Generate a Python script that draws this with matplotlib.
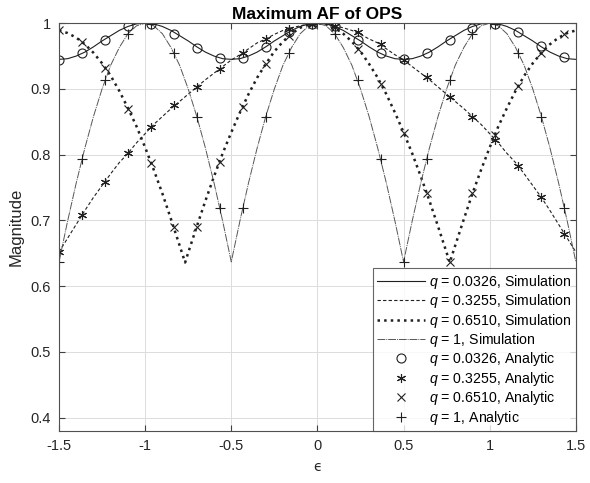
import numpy as np
import matplotlib.pyplot as plt

plt.rcParams["font.family"] = ["Liberation Sans", "DejaVu Sans"]
plt.rcParams["mathtext.fontset"] = "custom"
plt.rcParams["mathtext.it"] = "Liberation Sans:italic"
plt.rcParams["mathtext.rm"] = "Liberation Sans"

# simulation curves, sampled on a 0.05 grid in epsilon (+ cusp points for q=0.6510)
eps_sim = [-1.5, -1.45, -1.4, -1.35, -1.3, -1.25, -1.2, -1.15, -1.1, -1.05,
           -1.0, -0.95, -0.9, -0.85, -0.8, -0.75, -0.7, -0.65, -0.6, -0.55,
           -0.5, -0.45, -0.4, -0.35, -0.3, -0.25, -0.2, -0.15, -0.1, -0.05,
           0.0, 0.05, 0.1, 0.15, 0.2, 0.25, 0.3, 0.35, 0.4, 0.45,
           0.5, 0.55, 0.6, 0.65, 0.7, 0.75, 0.8, 0.85, 0.9, 0.95,
           1.0, 1.05, 1.1, 1.15, 1.2, 1.25, 1.3, 1.35, 1.4, 1.45, 1.5]

sim_q00326 = [0.945, 0.946, 0.950, 0.956, 0.964, 0.973, 0.981, 0.989, 0.995, 0.999,
              1.000, 0.999, 0.995, 0.989, 0.981, 0.973, 0.964, 0.956, 0.950, 0.946,
              0.945, 0.946, 0.950, 0.956, 0.964, 0.973, 0.981, 0.989, 0.995, 0.999,
              1.000, 0.999, 0.995, 0.989, 0.981, 0.973, 0.964, 0.956, 0.950, 0.946,
              0.945, 0.946, 0.950, 0.956, 0.964, 0.973, 0.981, 0.989, 0.995, 0.999,
              1.000, 0.999, 0.995, 0.989, 0.981, 0.973, 0.964, 0.956, 0.950, 0.946, 0.945]

sim_q03255 = [0.652, 0.673, 0.694, 0.715, 0.735, 0.753, 0.771, 0.788, 0.802, 0.818,
              0.832, 0.846, 0.858, 0.870, 0.881, 0.892, 0.903, 0.914, 0.924, 0.934,
              0.944, 0.952, 0.961, 0.970, 0.976, 0.983, 0.989, 0.993, 0.996, 0.999,
              1.000, 0.999, 0.996, 0.993, 0.989, 0.983, 0.976, 0.970, 0.961, 0.952,
              0.944, 0.934, 0.924, 0.914, 0.903, 0.892, 0.881, 0.870, 0.858, 0.846,
              0.832, 0.818, 0.802, 0.788, 0.771, 0.753, 0.735, 0.715, 0.694, 0.673, 0.652]

eps_sim_q06510 = [-1.5, -1.45, -1.4, -1.35, -1.3, -1.25, -1.2, -1.15, -1.1, -1.05,
                  -1.0, -0.95, -0.9, -0.85, -0.8, -0.768, -0.75, -0.7, -0.65, -0.6, -0.55,
                  -0.5, -0.45, -0.4, -0.35, -0.3, -0.25, -0.2, -0.15, -0.1, -0.05,
                  0.0, 0.05, 0.1, 0.15, 0.2, 0.25, 0.3, 0.35, 0.4, 0.45,
                  0.5, 0.55, 0.6, 0.65, 0.7, 0.75, 0.768, 0.8, 0.85, 0.9, 0.95,
                  1.0, 1.05, 1.1, 1.15, 1.2, 1.25, 1.3, 1.35, 1.4, 1.45, 1.5]
sim_q06510 = [0.989, 0.985, 0.978, 0.968, 0.955, 0.939, 0.920, 0.897, 0.871, 0.843,
              0.811, 0.777, 0.741, 0.702, 0.662, 0.636, 0.651, 0.691, 0.730, 0.767, 0.802,
              0.834, 0.864, 0.892, 0.917, 0.938, 0.957, 0.972, 0.984, 0.993, 0.998,
              1.000, 0.998, 0.993, 0.984, 0.972, 0.957, 0.938, 0.917, 0.892, 0.864,
              0.834, 0.802, 0.767, 0.730, 0.691, 0.651, 0.636, 0.662, 0.702, 0.741, 0.777,
              0.811, 0.843, 0.871, 0.897, 0.920, 0.939, 0.955, 0.968, 0.978, 0.985, 0.989]

sim_q1 = [0.637, 0.699, 0.757, 0.810, 0.858, 0.900, 0.936, 0.963, 0.984, 0.996,
          1.000, 0.996, 0.984, 0.963, 0.936, 0.900, 0.858, 0.810, 0.757, 0.699,
          0.637, 0.699, 0.757, 0.810, 0.858, 0.900, 0.936, 0.963, 0.984, 0.996,
          1.000, 0.996, 0.984, 0.963, 0.936, 0.900, 0.858, 0.810, 0.757, 0.699,
          0.637, 0.699, 0.757, 0.810, 0.858, 0.900, 0.936, 0.963, 0.984, 0.996,
          1.000, 0.996, 0.984, 0.963, 0.936, 0.900, 0.858, 0.810, 0.757, 0.699, 0.637]

# analytic values at the marker positions
eps_ana = [-1.5, -1.3667, -1.2333, -1.1, -0.9667, -0.8333, -0.7, -0.5667,
           -0.4333, -0.3, -0.1667, -0.0333, 0.1, 0.2333, 0.3667, 0.5,
           0.6333, 0.7667, 0.9, 1.0333, 1.1667, 1.3, 1.4333]

ana_q00326 = [0.944, 0.955, 0.975, 0.995, 0.998, 0.984, 0.963, 0.947,
              0.947, 0.964, 0.987, 0.999, 0.995, 0.975, 0.955, 0.946,
              0.954, 0.974, 0.993, 0.998, 0.986, 0.965, 0.948]
ana_q03255 = [0.652, 0.708, 0.758, 0.802, 0.842, 0.875, 0.903, 0.931,
              0.955, 0.976, 0.991, 0.999, 0.996, 0.986, 0.968, 0.944,
              0.918, 0.888, 0.858, 0.823, 0.783, 0.735, 0.680]
ana_q06510 = [0.989, 0.971, 0.932, 0.870, 0.788, 0.690, 0.690, 0.789,
              0.873, 0.938, 0.980, 0.999, 0.994, 0.961, 0.907, 0.833,
              0.741, 0.637, 0.742, 0.830, 0.904, 0.954, 0.983]
ana_q1 = [0.637, 0.793, 0.913, 0.984, 0.998, 0.955, 0.858, 0.719,
          0.719, 0.858, 0.955, 0.998, 0.984, 0.913, 0.793, 0.637,
          0.793, 0.913, 0.984, 0.998, 0.955, 0.858, 0.719]

fig = plt.figure(figsize=(5.9, 4.83), dpi=100)
ax = fig.add_axes([0.100, 0.108, 0.876, 0.844])

ax.plot(eps_sim, sim_q00326, "-", color="#202020", lw=0.8,
        label="$q$ = 0.0326, Simulation")
ax.plot(eps_sim, sim_q03255, "--", color="#202020", lw=0.8, dashes=(3, 2),
        label="$q$ = 0.3255, Simulation")
ax.plot(eps_sim_q06510, sim_q06510, ":", color="#202020", lw=1.8,
        label="$q$ = 0.6510, Simulation")
ax.plot(eps_sim, sim_q1, color="#555555", lw=0.7, linestyle=(0, (8, 1, 1, 1)),
        label="$q$ = 1, Simulation")

mk = dict(linestyle="none", color="#202020", mew=0.8)
ax.plot(eps_ana, ana_q00326, marker="o", mfc="none", markersize=6.5,
        label="$q$ = 0.0326, Analytic", **mk)
ax.plot(eps_ana, ana_q03255, marker=(6, 2, 0), markersize=6.5,
        label="$q$ = 0.3255, Analytic", **mk)
ax.plot(eps_ana, ana_q06510, marker="x", markersize=5.5,
        label="$q$ = 0.6510, Analytic", **mk)
ax.plot(eps_ana, ana_q1, marker="+", markersize=7,
        label="$q$ = 1, Analytic", **mk)

ax.set_xlim(-1.5, 1.5)
ax.set_ylim(0.38, 1.0)
ax.set_xticks([-1.5, -1, -0.5, 0, 0.5, 1, 1.5])
ax.set_xticklabels(["-1.5", "-1", "-0.5", "0", "0.5", "1", "1.5"])
ax.set_yticks([0.4, 0.5, 0.6, 0.7, 0.8, 0.9, 1.0])
ax.set_yticklabels(["0.4", "0.5", "0.6", "0.7", "0.8", "0.9", "1"])
ax.grid(True, color="#dcdcdc", lw=0.7)
ax.set_axisbelow(True)
ax.tick_params(direction="in", length=4, width=0.8, color="#404040",
               labelsize=10.5, top=True, right=True, pad=6, labelcolor="#262626")
for s in ax.spines.values():
    s.set_color("#505050")
    s.set_linewidth(0.8)

ax.set_title("Maximum AF of OPS", fontsize=12.5, fontweight="bold", pad=3)
ax.set_ylabel("Magnitude", fontsize=12, color="#262626", labelpad=5)
ax.set_xlabel("\u03f5", fontsize=10, color="#262626", labelpad=5, family="DejaVu Sans")

leg = ax.legend(loc="lower right", borderaxespad=0, fontsize=10.2, frameon=True,
                fancybox=False, handlelength=3.4, handletextpad=0.3,
                labelspacing=0.1, borderpad=0.3)
leg.get_frame().set_edgecolor("#404040")
leg.get_frame().set_linewidth(0.8)

fig.savefig("out.png", dpi=100)
